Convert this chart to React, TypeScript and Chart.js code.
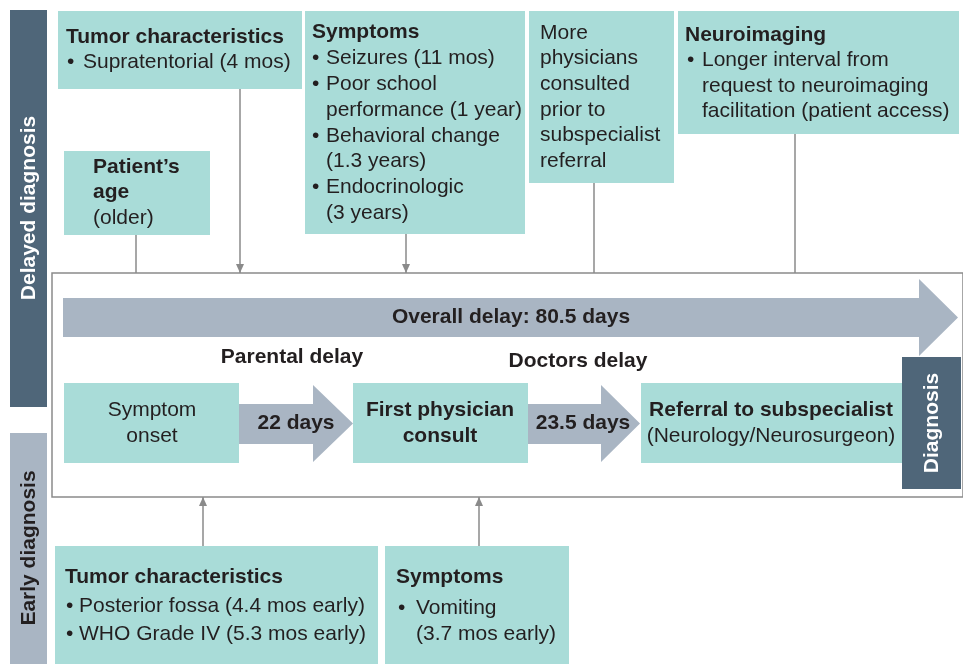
import React, { useEffect, useRef } from "react";
import { Chart, registerables } from "chart.js";
Chart.register(...registerables);

// ---- content (texts) ----
const sideLabels = ["Delayed diagnosis", "Early diagnosis"];
const delayTitle = ["Overall delay: 80.5 days"];
const phaseLabels = ["Parental delay", "Doctors delay"];
const phaseValues = ["22 days", "23.5 days"];
const stepLines = [["Symptom", "onset"], ["First physician", "consult"], ["Referral to subspecialist", "(Neurology/Neurosurgeon)"]];
const endLabel = ["Diagnosis"];
const topTumor = ["Tumor characteristics", "Supratentorial (4 mos)"];
const topAge = ["Patient\u2019s", "age", "(older)"];
const topSymptoms = ["Symptoms", "Seizures (11 mos)", "Poor school", "performance (1 year)", "Behavioral change", "(1.3 years)", "Endocrinologic", "(3 years)"];
const topPhysicians = ["More", "physicians", "consulted", "prior to", "subspecialist", "referral"];
const topImaging = ["Neuroimaging", "Longer interval from", "request to neuroimaging", "facilitation (patient access)"];
const botTumor = ["Tumor characteristics", "Posterior fossa (4.4 mos early)", "WHO Grade IV (5.3 mos early)"];
const botSymptoms = ["Symptoms", "Vomiting", "(3.7 mos early)"];

// ---- layout (diagram coordinates on linear scales 0..963, 0..664) ----
const TEAL = "#a9dcd8";
const GREYBLUE = "#a9b5c3";
const SLATE = "#4f6679";
const INK = "#231f20";
const LINE = "#8a8a8a";
const FONT = "'Liberation Sans', Arial, Helvetica, sans-serif";

const diagramPlugin = {
  id: "diagram",
  afterDraw(chart: any) {
    const ctx: CanvasRenderingContext2D = chart.ctx;
    const sx = chart.scales.x, sy = chart.scales.y;
    const X = (v: number) => sx.getPixelForValue(v);
    const Y = (v: number) => sy.getPixelForValue(v);
    const rect = (x0: number, y0: number, x1: number, y1: number, fill: string) => {
      ctx.fillStyle = fill;
      ctx.fillRect(X(x0), Y(y0), X(x1) - X(x0), Y(y1) - Y(y0));
    };
    const text = (t: string, x: number, y: number, bold = false, align: CanvasTextAlign = "left", color = INK) => {
      ctx.font = `${bold ? "bold " : ""}21px ${FONT}`;
      ctx.fillStyle = color;
      ctx.textAlign = align;
      ctx.textBaseline = "middle";
      ctx.fillText(t, X(x), Y(y));
    };
    const vtext = (t: string, x: number, y: number, color: string) => {
      ctx.save();
      ctx.translate(X(x), Y(y));
      ctx.rotate(-Math.PI / 2);
      ctx.font = `bold 21px ${FONT}`;
      ctx.fillStyle = color;
      ctx.textAlign = "center";
      ctx.textBaseline = "middle";
      ctx.fillText(t, 0, 0);
      ctx.restore();
    };
    const vline = (x: number, y0: number, y1: number, head: "none" | "down" | "up") => {
      ctx.strokeStyle = LINE;
      ctx.lineWidth = 1.5;
      ctx.beginPath();
      ctx.moveTo(X(x), Y(y0));
      ctx.lineTo(X(x), Y(y1));
      ctx.stroke();
      if (head !== "none") {
        const tip = head === "down" ? Math.max(y0, y1) : Math.min(y0, y1);
        const d = head === "down" ? -9 : 9;
        ctx.fillStyle = LINE;
        ctx.beginPath();
        ctx.moveTo(X(x), Y(tip));
        ctx.lineTo(X(x - 4), Y(tip + d));
        ctx.lineTo(X(x + 4), Y(tip + d));
        ctx.closePath();
        ctx.fill();
      }
    };
    const bigArrow = (x0: number, xb: number, xt: number, by0: number, by1: number, hy0: number, hy1: number) => {
      const ym = (hy0 + hy1) / 2;
      ctx.fillStyle = GREYBLUE;
      ctx.beginPath();
      ctx.moveTo(X(x0), Y(by0));
      ctx.lineTo(X(xb), Y(by0));
      ctx.lineTo(X(xb), Y(hy0));
      ctx.lineTo(X(xt), Y(ym));
      ctx.lineTo(X(xb), Y(hy1));
      ctx.lineTo(X(xb), Y(by1));
      ctx.lineTo(X(x0), Y(by1));
      ctx.closePath();
      ctx.fill();
    };
    const bullet = (bx: number, tx: number, y: number, t: string) => {
      text("\u2022", bx, y);
      text(t, tx, y);
    };

    ctx.save();
    // side bars
    rect(10, 10, 47, 407, SLATE);
    rect(10, 433, 47, 664, GREYBLUE);
    vtext(sideLabels[0], 29, 208, "#ffffff");
    vtext(sideLabels[1], 29, 548, INK);

    // connector lines (top)
    vline(136, 235, 273, "none");
    vline(240, 89, 273, "down");
    vline(406, 234, 273, "down");
    vline(594, 183, 273, "none");
    vline(795, 134, 273, "none");
    // connector lines (bottom)
    vline(203, 546, 497, "up");
    vline(479, 546, 497, "up");

    // main frame
    ctx.strokeStyle = LINE;
    ctx.lineWidth = 1.5;
    ctx.strokeRect(X(52), Y(273), X(963) - X(52), Y(497) - Y(273));
    ctx.fillStyle = "#ffffff";
    ctx.fillRect(X(53), Y(274), X(961) - X(53), Y(496) - Y(274));

    // top boxes
    rect(58, 11, 302, 89, TEAL);
    text(topTumor[0], 66, 37, true);
    bullet(67, 83, 62, topTumor[1]);

    rect(64, 151, 210, 235, TEAL);
    text(topAge[0], 93, 167, true);
    text(topAge[1], 93, 192, true);
    text(topAge[2], 93, 218);

    rect(305, 11, 525, 234, TEAL);
    text(topSymptoms[0], 312, 32, true);
    bullet(312, 326, 58, topSymptoms[1]);
    bullet(312, 326, 84, topSymptoms[2]);
    text(topSymptoms[3], 326, 110);
    bullet(312, 326, 136, topSymptoms[4]);
    text(topSymptoms[5], 326, 161);
    bullet(312, 326, 187, topSymptoms[6]);
    text(topSymptoms[7], 326, 213);

    rect(529, 11, 674, 183, TEAL);
    topPhysicians.forEach((t, i) => text(t, 540, 33 + i * 25.6));

    rect(678, 11, 959, 134, TEAL);
    text(topImaging[0], 685, 35, true);
    bullet(687, 702, 60, topImaging[1]);
    text(topImaging[2], 702, 86);
    text(topImaging[3], 702, 111);

    // overall arrow
    bigArrow(63, 919, 958, 298, 337, 279, 356);
    text(delayTitle[0], 511, 317, true, "center");

    text(phaseLabels[0], 292, 357, true, "center");
    text(phaseLabels[1], 578, 361, true, "center");

    // steps
    rect(64, 383, 239, 463, TEAL);
    text(stepLines[0][0], 152, 410, false, "center");
    text(stepLines[0][1], 152, 436, false, "center");

    bigArrow(239, 313, 353, 404, 444, 385, 462);
    text(phaseValues[0], 296, 423, true, "center");

    rect(353, 383, 528, 463, TEAL);
    text(stepLines[1][0], 440, 410, true, "center");
    text(stepLines[1][1], 440, 436, true, "center");

    bigArrow(528, 601, 640, 404, 444, 385, 462);
    text(phaseValues[1], 583, 423, true, "center");

    rect(641, 383, 902, 463, TEAL);
    text(stepLines[2][0], 771, 410, true, "center");
    text(stepLines[2][1], 771, 436, false, "center");

    rect(902, 357, 961, 489, SLATE);
    vtext(endLabel[0], 932, 423, "#ffffff");

    // bottom boxes
    rect(55, 546, 378, 664, TEAL);
    text(botTumor[0], 65, 577, true);
    bullet(66, 79, 606, botTumor[1]);
    bullet(66, 79, 634, botTumor[2]);

    rect(385, 546, 569, 664, TEAL);
    text(botSymptoms[0], 396, 577, true);
    bullet(398, 416, 608, botSymptoms[1]);
    text(botSymptoms[2], 416, 634);

    ctx.restore();
  },
};

export default function App() {
  const ref = useRef<HTMLCanvasElement>(null);
  useEffect(() => {
    document.body.style.margin = "0";
    const chart = new Chart(ref.current!, {
      type: "scatter",
      data: { datasets: [{ data: [], pointRadius: 0 }] },
      options: {
        animation: false,
        responsive: false,
        maintainAspectRatio: false,
        layout: { padding: 0 },
        plugins: { legend: { display: false }, tooltip: { enabled: false } },
        scales: {
          x: { type: "linear", min: 0, max: 963, display: false },
          y: { type: "linear", min: 0, max: 664, reverse: true, display: false },
        },
      },
      plugins: [diagramPlugin],
    });
    return () => chart.destroy();
  }, []);
  return <canvas ref={ref} width={963} height={664} style={{ display: "block", width: 963, height: 664 }} />;
}
